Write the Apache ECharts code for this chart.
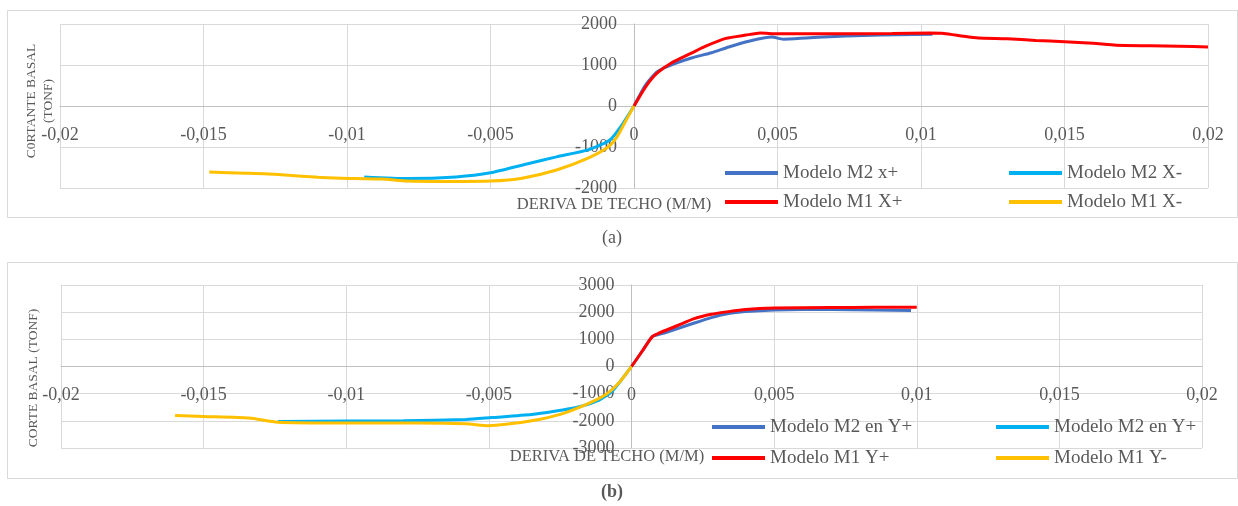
<!DOCTYPE html>
<html>
<head>
<meta charset="utf-8">
<script src="https://cdn.jsdelivr.net/npm/echarts@6/dist/echarts.min.js"></script>
<style>
html,body{margin:0;padding:0;background:#fff;}
#chart{width:1238px;height:506px;}
</style>
</head>
<body>
<div id="chart"></div>
<script>
// ---------- Data (x = roof drift m/m, y = base shear tonf) ----------
// Panel (a)
var a_M2_Xpos = [[0,0],[0.0004,510],[0.0008,830],[0.0012,975],[0.002,1170],[0.0027,1300],[0.0033,1440],[0.004,1580],[0.0048,1680],[0.0052,1630],[0.006,1660],[0.0068,1690],[0.008,1720],[0.0092,1740],[0.0104,1750]];
var a_M2_Xneg = [[0,0],[-0.0004,-440],[-0.00084,-830],[-0.0016,-1070],[-0.0027,-1240],[-0.0037,-1410],[-0.005,-1630],[-0.0062,-1730],[-0.0079,-1770],[-0.0094,-1730]];
var a_M1_Xpos = [[0,0],[0.0004,463],[0.0008,800],[0.0013,1050],[0.002,1290],[0.0025,1460],[0.0032,1650],[0.0039,1730],[0.0044,1780],[0.005,1760],[0.007,1760],[0.009,1770],[0.0103,1780],[0.0108,1770],[0.0115,1700],[0.012,1660],[0.013,1640],[0.014,1600],[0.015,1570],[0.016,1530],[0.0168,1480],[0.018,1470],[0.019,1460],[0.02,1440]];
var a_M1_Xneg = [[0,0],[-0.0003,-380],[-0.0006,-760],[-0.0009,-1000],[-0.0016,-1270],[-0.0027,-1560],[-0.0039,-1760],[-0.005,-1830],[-0.0065,-1840],[-0.0079,-1830],[-0.0088,-1780],[-0.0102,-1760],[-0.011,-1740],[-0.0124,-1670],[-0.0135,-1640],[-0.0148,-1610]];
// Panel (b)
var b_M2_Ypos = [[0,0],[0.0004,600],[0.00073,1100],[0.0012,1250],[0.0022,1600],[0.0028,1800],[0.0034,1950],[0.004,2020],[0.005,2080],[0.006,2100],[0.007,2100],[0.0085,2080],[0.0098,2060]];
var b_M2_Yneg = [[0,0],[-0.0003,-420],[-0.0007,-930],[-0.0012,-1270],[-0.0019,-1500],[-0.0027,-1650],[-0.0035,-1770],[-0.0049,-1880],[-0.0058,-1950],[-0.008,-2000],[-0.01,-2010],[-0.0124,-2020]];
var b_M1_Ypos = [[0,0],[0.0004,600],[0.00073,1100],[0.001,1250],[0.0016,1500],[0.0022,1760],[0.0028,1920],[0.0034,2020],[0.004,2100],[0.005,2150],[0.007,2170],[0.0085,2180],[0.01,2180]];
var b_M1_Yneg = [[0,0],[-0.0004,-550],[-0.0009,-1030],[-0.0016,-1400],[-0.0025,-1760],[-0.0035,-2000],[-0.0044,-2130],[-0.005,-2180],[-0.0058,-2110],[-0.0075,-2080],[-0.01,-2080],[-0.0124,-2050],[-0.0134,-1900],[-0.015,-1840],[-0.016,-1800]];

// Axis ranges / ticks
var xTicks = {min:-0.02, max:0.02, interval:0.005};
var aYTicks = {min:-2000, max:2000, interval:1000};
var bYTicks = {min:-3000, max:3000, interval:1000};

// Legend labels
var seriesLabels = {
  a1:'Modelo M2 x+', a2:'Modelo M2 X-', a3:'Modelo M1 X+', a4:'Modelo M1 X-',
  b1:'Modelo M2 en Y+', b2:'Modelo M2 en Y+', b3:'Modelo M1 Y+', b4:'Modelo M1 Y-'
};
var colors = {m2pos:'#4472C4', m2neg:'#00B0F0', m1pos:'#FF0000', m1neg:'#FFC000'};

// Texts
var textA = {yName:'C0RTANTE BASAL\n(TONF)', xName:'DERIVA DE TECHO (M/M)', caption:'(a)'};
var textB = {yName:'CORTE BASAL (TONF)', xName:'DERIVA DE TECHO (M/M)', caption:'(b)'};

// ---------- Layout ----------
var grids = [
  {left:60, top:24, width:1148, height:164},
  {left:61, top:285, width:1141, height:163}
];

// ---------- Chart ----------
var FONT = 'Liberation Serif';
var GREY = '#595959';
var chart = echarts.init(document.getElementById('chart'), null, {renderer:'canvas'});

// axes cross at the data origin: move each axis line to the origin of its grid
function xAxisCfg(gi, yt){
  var g = grids[gi];
  var zeroFrac = (yt.max - 0) / (yt.max - yt.min);
  return {
    type:'value', gridIndex:gi, min:xTicks.min, max:xTicks.max, interval:xTicks.interval,
    position:'bottom', offset:-(g.height*(1-zeroFrac)),
    axisLine:{show:true, onZero:false, lineStyle:{color:'#BFBFBF', width:1}},
    axisTick:{show:false},
    axisLabel:{margin:20, fontFamily:FONT, fontSize:18, color:GREY,
      formatter:function(v){ return String(Math.round(v*1000)/1000).replace('.', ','); }},
    splitLine:{show:true, lineStyle:{color:'#D9D9D9', width:1}}
  };
}
function yAxisCfg(gi, t){
  var g = grids[gi];
  var zeroFrac = (0 - xTicks.min) / (xTicks.max - xTicks.min);
  return {
    type:'value', gridIndex:gi, min:t.min, max:t.max, interval:t.interval,
    position:'left', offset:-(g.width*zeroFrac),
    axisLine:{show:true, onZero:false, lineStyle:{color:'#BFBFBF', width:1}},
    axisTick:{show:false},
    axisLabel:{margin:17, fontFamily:FONT, fontSize:18, color:GREY,
      formatter:function(v){ return String(v); }},
    splitLine:{show:true, lineStyle:{color:'#D9D9D9', width:1}}
  };
}
function ser(name, data, color, gi){
  return {
    name:name, type:'line', data:data, xAxisIndex:gi, yAxisIndex:gi,
    showSymbol:false, symbol:'none', smooth:0.2,
    lineStyle:{color:color, width:3},
    itemStyle:{color:color},
    emphasis:{disabled:true}
  };
}
function leg(name, left, cy){
  return {
    data:[name], left:left, top:cy-10, padding:0, itemGap:0,
    icon:'rect', itemWidth:53, itemHeight:4, selectedMode:false,
    formatter:function(n){ return seriesLabels[n]; },
    textStyle:{fontFamily:FONT, fontSize:19, color:GREY, lineHeight:20}
  };
}
function txt(x, y, text, size, rot, bold){
  return {
    type:'text', x:x, y:y, rotation:rot||0, silent:true,
    style:{text:text, fill:GREY, font:(bold?'bold ':'')+size+'px "'+FONT+'"',
      align:'center', verticalAlign:'middle', lineHeight:size+4}
  };
}

var option = {
  animation:false,
  backgroundColor:'#fff',
  grid:grids,
  xAxis:[xAxisCfg(0, aYTicks), xAxisCfg(1, bYTicks)],
  yAxis:[yAxisCfg(0, aYTicks), yAxisCfg(1, bYTicks)],
  legend:[
    leg('a1', 725, 173), leg('a2', 1009, 173), leg('a3', 725, 202), leg('a4', 1009, 202),
    leg('b1', 712, 427), leg('b2', 996, 427), leg('b3', 712, 458), leg('b4', 996, 458)
  ],
  series:[
    ser('a1', a_M2_Xpos, colors.m2pos, 0),
    ser('a2', a_M2_Xneg, colors.m2neg, 0),
    ser('a3', a_M1_Xpos, colors.m1pos, 0),
    ser('a4', a_M1_Xneg, colors.m1neg, 0),
    ser('b1', b_M2_Ypos, colors.m2pos, 1),
    ser('b2', b_M2_Yneg, colors.m2neg, 1),
    ser('b3', b_M1_Ypos, colors.m1pos, 1),
    ser('b4', b_M1_Yneg, colors.m1neg, 1)
  ],
  graphic:[
    {type:'rect', silent:true, shape:{x:7.5, y:10.5, width:1230, height:207}, style:{fill:'none', stroke:'#D9D9D9', lineWidth:1}},
    {type:'rect', silent:true, shape:{x:7.5, y:262.5, width:1230, height:216}, style:{fill:'none', stroke:'#D9D9D9', lineWidth:1}},
    txt(40, 101, textA.yName, 13.5, Math.PI/2),
    txt(614, 205, textA.xName, 16.5),
    txt(612, 238, textA.caption, 18),
    txt(33, 378, textB.yName, 13.5, Math.PI/2),
    txt(607, 457, textB.xName, 16.5),
    txt(612, 492, textB.caption, 18, 0, true)
  ]
};
chart.setOption(option);
</script>
</body>
</html>
